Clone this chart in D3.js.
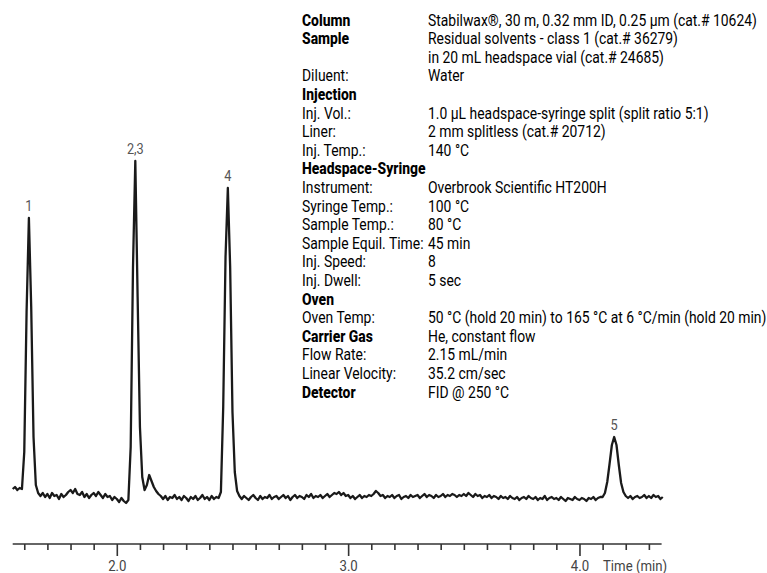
<!DOCTYPE html>
<html>
<head>
<meta charset="utf-8">
<script src="https://cdn.jsdelivr.net/npm/d3@7"></script>
<style>
  html, body { margin: 0; padding: 0; background: #fff; }
  svg { display: block; }
</style>
</head>
<body>
<svg id="chart" width="767" height="573"></svg>
<script>
// ---------------- DATA ----------------
// Detector signal sampled every 0.01 min starting at 1.55 min (arbitrary units, baseline ~0)
const timeStart = 1.55;
const timeStep = 0.01;
const signal = [
  8, 10, 7, 9, 8,                                   // 1.55-1.59
  45, 185, 279, 190, 60, 12, 4,                     // 1.60-1.66 peak 1
  1, 4, 0,                                          // 1.67-1.69
  3, -1, 4, 1, 2, -2, 3, 0, 2, 5,                   // 1.70
  7, 4, 8, 3, 2, 5, 0, 3, -1, 2,                    // 1.80
  4, 1, 5, 2, -1, 3, 0, 1, -3, 0,                   // 1.90
  -2, -5, -1, -4, -6,                               // 2.00-2.04
  -3,                                               // 2.05
  50, 230, 336, 200, 70, 20, 7, 12, 22, 16, 10, 6, 3, 1, // 2.06-2.19 peaks 2,3
  -2, 1, -3, 0, -1, 2, -2, 0, -3, 1,                // 2.20
  -1, -4, 0, -2, 1, -3, -1, 2, -2, 0,               // 2.30
  -3, 1, -2, 0, -1,                                 // 2.40-2.44
  5, 90, 240, 309, 230, 85, 25, 6, 1,               // 2.45-2.53 peak 4
  -2, 1, -1, -3, 0, 2,                              // 2.54-2.59
  -1, -3, 1, -2, 0, -1, 2, -2, 0, 1,                // 2.60
  -2, 0, 2, -1, 1, -3, 0, 2, -1, 1,                 // 2.70
  0, -2, 2, 0, 3, -1, 1, 0, 2, -1,                  // 2.80
  1, 3, 0, 2, 4, 3, 5, 2, 4, 1,                     // 2.90
  2, -1, 1, -2, 0, 2, -1, 1, 0, 2,                  // 3.00
  1, 3, 6, 4, 1, 2, -1, 1, 0, 2,                    // 3.10
  -1, 1, 2, -2, 0, 1, -1, 2, 0, 1,                  // 3.20
  2, -1, 1, 3, 0, 2, 1, -1, 2, 0,                   // 3.30
  1, 3, 0, 2, 1, 3, 2, 0, 2, 1,                     // 3.40
  3, 1, 4, 2, 0, 3, 1, 2, -1, 1,                    // 3.50
  0, 2, -1, 1, 0, -2, 1, -1, 0, -2,                 // 3.60
  1, -1, -2, 0, -3, -1, 0, -2, 1, -1,               // 3.70
  -2, 0, -3, -1, -2, 1, -3, -1, 0, -2,              // 3.80
  -1, -3, 0, -2, -4, -1, -2, -3, 0, -2,             // 3.90
  -3, -1, -2, -4, -1, -2, 0, -3, -1, 0,             // 4.00
  0, 4, 15, 33, 52, 60, 52, 32, 14, 5, 1,           // 4.10-4.20 peak 5
  -1, 1, -2, 0, 1, -1, 0, 2, -1,                    // 4.21-4.29
  1, -1, 2, 0, 1, -2, 0                             // 4.30-4.36
];

const peakLabels = ["1", "2,3", "4", "5"];
const peakTimes  = [1.62, 2.08, 2.48, 4.15];

const majorTicks = [2.0, 3.0, 4.0];
const majorTickLabels = ["2.0", "3.0", "4.0"];
const minorTicks = [1.6, 1.7, 1.8, 1.9, 2.1, 2.2, 2.3, 2.4, 2.5, 2.6, 2.7, 2.8, 2.9,
                    3.1, 3.2, 3.3, 3.4, 3.5, 3.6, 3.7, 3.8, 3.9, 4.1, 4.2, 4.3];
const axisTitle = "Time (min)";

const condLabels = [
  "Column", "Sample", "", "Diluent:", "Injection", "Inj. Vol.:", "Liner:", "Inj. Temp.:",
  "Headspace-Syringe", "Instrument:", "Syringe Temp.:", "Sample Temp.:", "Sample Equil. Time:",
  "Inj. Speed:", "Inj. Dwell:", "Oven", "Oven Temp:", "Carrier Gas", "Flow Rate:",
  "Linear Velocity:", "Detector"
];
const condValues = [
  "Stabilwax®, 30 m, 0.32 mm ID, 0.25 µm (cat.# 10624)",
  "Residual solvents - class 1 (cat.# 36279)",
  "in 20 mL headspace vial (cat.# 24685)",
  "Water", "",
  "1.0 µL headspace-syringe split (split ratio 5:1)",
  "2 mm splitless (cat.# 20712)",
  "140 °C", "",
  "Overbrook Scientific HT200H",
  "100 °C", "80 °C", "45 min", "8", "5 sec", "",
  "50 °C (hold 20 min) to 165 °C at 6 °C/min (hold 20 min)",
  "He, constant flow", "2.15 mL/min", "35.2 cm/sec", "FID @ 250 °C"
];
const condBold = [true, true, false, false, true, false, false, false,
                  true, false, false, false, false, false, false, true,
                  false, true, false, false, true];

// ---------------- DRAW ----------------
const svg = d3.select("#chart");
const FONT = "Roboto, 'Liberation Sans', sans-serif";
const BLOCK_SIZE = 15.8;

// horizontal condensing factor so the first value line spans its reference width
const probe = svg.append("text").attr("font-family", FONT).attr("font-size", BLOCK_SIZE)
  .attr("font-weight", 400).text(condValues[0]);
const SX = 329 / probe.node().getComputedTextLength();
probe.remove();

function place(sel, px, py) {
  return sel.attr("x", 0).attr("y", 0)
    .attr("transform", `translate(${px},${py}) scale(${SX},1)`);
}

const points = signal.map((v, i) => ({ t: +(timeStart + i * timeStep).toFixed(2), v }));

const x = d3.scaleLinear().domain([1.55, 4.355]).range([12.7, 661.6]);
const y = d3.scaleLinear().domain([0, 336]).range([497, 161]);

// trace
svg.append("path")
  .datum(points)
  .attr("fill", "none")
  .attr("stroke", "#1a1a1a")
  .attr("stroke-width", 2.3)
  .attr("stroke-linejoin", "round")
  .attr("d", d3.line().x(d => x(d.t)).y(d => y(d.v)));

// peak labels
peakLabels.forEach((lab, i) => {
  const p = points.reduce((best, d) =>
    Math.abs(d.t - peakTimes[i]) < Math.abs(best.t - peakTimes[i]) ? d : best);
  place(svg.append("text"), x(peakTimes[i]), y(p.v) - 7)
    .attr("text-anchor", "middle")
    .attr("font-family", FONT)
    .attr("font-size", 14.5)
    .attr("fill", "#555")
    .text(lab);
});

// axis
const axisY = 544;
const gMinor = svg.append("g").attr("transform", `translate(0,${axisY})`)
  .call(d3.axisBottom(x).tickValues(minorTicks).tickSize(6).tickFormat(""));
const gMajor = svg.append("g").attr("transform", `translate(0,${axisY})`)
  .call(d3.axisBottom(x).tickValues(majorTicks).tickSize(12)
        .tickFormat((d, i) => majorTickLabels[i]));
[gMinor, gMajor].forEach(g => {
  g.selectAll(".tick line").attr("stroke", "#333").attr("stroke-width", 1.6);
});
gMinor.select(".domain").remove();
gMajor.select(".domain").attr("stroke", "#333").attr("stroke-width", 1.6)
  .attr("d", `M${x.range()[0]},0H${x.range()[1]}`);
gMajor.selectAll(".tick text").each(function () {
  place(d3.select(this), 0, 26.5)
    .attr("dy", null)
    .attr("font-family", FONT).attr("font-size", 15).attr("fill", "#444");
});

place(svg.append("text"), 603, 570.5)
  .attr("font-family", FONT).attr("font-size", 15).attr("fill", "#444")
  .text(axisTitle);

// conditions block
const rowY0 = 25.5, rowStep = 18.6;
const block = svg.append("g").attr("font-family", FONT).attr("font-size", BLOCK_SIZE).attr("fill", "#000");
condLabels.forEach((lab, i) => {
  const yy = rowY0 + i * rowStep;
  if (lab) place(block.append("text"), 302, yy)
    .attr("font-weight", condBold[i] ? 800 : 400).text(lab);
  if (condValues[i]) place(block.append("text"), 428, yy)
    .attr("font-weight", 400).text(condValues[i]);
});
</script>
</body>
</html>
